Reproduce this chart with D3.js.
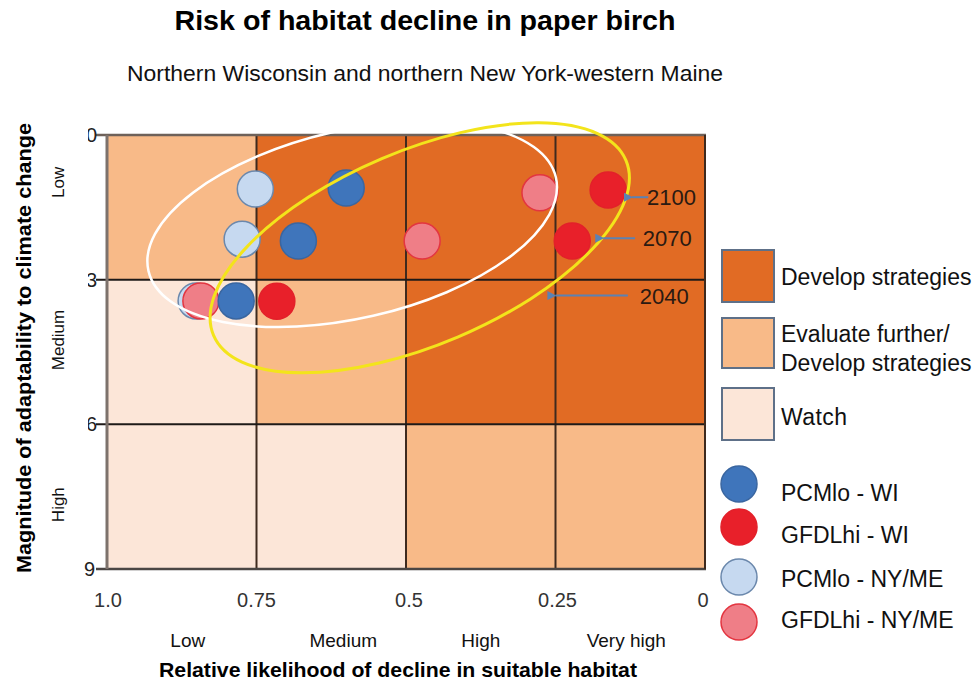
<!DOCTYPE html>
<html>
<head>
<meta charset="utf-8">
<script src="https://cdn.jsdelivr.net/npm/d3@7/dist/d3.min.js"></script>
<style>
  html, body { margin: 0; padding: 0; background: #fff; }
  svg { display: block; font-family: "Liberation Sans", Arial, sans-serif; }
</style>
</head>
<body>
<svg id="chart" width="979" height="685"></svg>
<script>
// ---- data -------------------------------------------------------------
const xTickValues = [1.0, 0.75, 0.5, 0.25, 0];
const xTickLabels = ["1.0", "0.75", "0.5", "0.25", "0"];
const yTickValues = [0, 3, 6, 9];
const likelihoodClasses = ["Low", "Medium", "High", "Very high"];
const adaptabilityClasses = ["Low", "Medium", "High"];

// Action zone for each cell: rows = adaptability band (0-3, 3-6, 6-9),
// columns = likelihood band (1.0-0.75, 0.75-0.5, 0.5-0.25, 0.25-0)
const zoneRows = [
  ["evaluate", "develop", "develop", "develop"],
  ["watch", "evaluate", "develop", "develop"],
  ["watch", "watch", "evaluate", "evaluate"]
];

// Scenario positions (x = relative likelihood value, y = adaptability score)
const pcmloNYME = [{x: 0.752, y: 1.12}, {x: 0.774, y: 2.16}, {x: 0.851, y: 3.44}];
const gfdlhiNYME = [{x: 0.276, y: 1.20}, {x: 0.473, y: 2.20}, {x: 0.843, y: 3.44}];
const pcmloWI = [{x: 0.600, y: 1.10}, {x: 0.680, y: 2.20}, {x: 0.784, y: 3.44}];
const gfdlhiWI = [{x: 0.162, y: 1.14}, {x: 0.222, y: 2.20}, {x: 0.716, y: 3.45}];

// Time-period callouts
const periodLabels = ["2100", "2070", "2040"];
const periodArrowY = [1.29, 2.14, 3.33];
const periodArrowFrom = [0.095, 0.117, 0.129];
const periodArrowTo = [0.122, 0.170, 0.250];
const periodLabelX = [0.097, 0.104, 0.109];

// ---- layout -----------------------------------------------------------
const svg = d3.select("#chart");
const plot = {left: 107, right: 705, top: 135, bottom: 569};

const x = d3.scaleLinear().domain([1.0, 0]).range([plot.left, plot.right]);
const y = d3.scaleLinear().domain([0, 9]).range([plot.top, plot.bottom]);

const zoneColor = {
  develop: "#E16B24",
  evaluate: "#F8BA88",
  watch: "#FCE6D8"
};

const xBands = [1.0, 0.75, 0.5, 0.25, 0];
const yBands = [0, 3, 6, 9];

// ---- titles -----------------------------------------------------------
svg.append("text")
  .attr("x", 425).attr("y", 30)
  .attr("text-anchor", "middle")
  .attr("font-size", 28).attr("font-weight", "bold")
  .attr("textLength", 501).attr("lengthAdjust", "spacingAndGlyphs")
  .text("Risk of habitat decline in paper birch");

svg.append("text")
  .attr("x", 425).attr("y", 81)
  .attr("text-anchor", "middle")
  .attr("font-size", 22)
  .attr("fill", "#111")
  .attr("textLength", 596).attr("lengthAdjust", "spacingAndGlyphs")
  .text("Northern Wisconsin and northern New York-western Maine");

// ---- zone cells -------------------------------------------------------
const cells = [];
zoneRows.forEach((row, r) => row.forEach((zone, c) => cells.push({r, c, zone})));

svg.append("g").selectAll("rect")
  .data(cells)
  .join("rect")
  .attr("x", d => x(xBands[d.c]))
  .attr("y", d => y(yBands[d.r]))
  .attr("width", d => x(xBands[d.c + 1]) - x(xBands[d.c]))
  .attr("height", d => y(yBands[d.r + 1]) - y(yBands[d.r]))
  .attr("fill", d => zoneColor[d.zone]);

// ---- grid & axes ------------------------------------------------------
const grid = svg.append("g");
// inner vertical dividers
grid.selectAll("line.v")
  .data([0.75, 0.5, 0.25])
  .join("line")
  .attr("x1", d => x(d)).attr("x2", d => x(d))
  .attr("y1", plot.top).attr("y2", plot.bottom)
  .attr("stroke", "#3E2A1E").attr("stroke-width", 2);
// horizontal dividers, running out to the tick labels
grid.selectAll("line.h")
  .data([3, 6])
  .join("line")
  .attr("x1", 96).attr("x2", plot.right)
  .attr("y1", d => y(d)).attr("y2", d => y(d))
  .attr("stroke", "#1E1A18").attr("stroke-width", 2);
// frame
grid.append("line")
  .attr("x1", 96).attr("x2", plot.right + 1)
  .attr("y1", plot.top).attr("y2", plot.top)
  .attr("stroke", "#6E6159").attr("stroke-width", 2.5);
grid.append("line")
  .attr("x1", 96).attr("x2", plot.right + 1)
  .attr("y1", plot.bottom).attr("y2", plot.bottom)
  .attr("stroke", "#4A4644").attr("stroke-width", 2.5);
grid.append("line")
  .attr("x1", plot.left).attr("x2", plot.left)
  .attr("y1", plot.top).attr("y2", plot.bottom)
  .attr("stroke", "#7D726C").attr("stroke-width", 3);
grid.append("line")
  .attr("x1", plot.right).attr("x2", plot.right)
  .attr("y1", plot.top).attr("y2", plot.bottom)
  .attr("stroke", "#3E2A1E").attr("stroke-width", 2);

// y tick labels (the upper three sit partly under the page margin)
svg.append("defs").append("clipPath")
  .attr("id", "tickClip")
  .append("rect")
  .attr("x", 88).attr("y", 100).attr("width", 30).attr("height", 360);

svg.append("g").selectAll("text")
  .data(yTickValues)
  .join("text")
  .attr("x", d => d === 9 ? 95 : 97)
  .attr("y", d => y(d) + 7)
  .attr("clip-path", d => d === 9 ? null : "url(#tickClip)")
  .attr("text-anchor", "end")
  .attr("font-size", 20)
  .attr("fill", "#222")
  .text(d => d);

// x tick labels
svg.append("g").selectAll("text")
  .data(xTickValues)
  .join("text")
  .attr("x", (d, i) => x(d) + [1, 0, 3, 2, -2][i])
  .attr("y", 607)
  .attr("text-anchor", "middle")
  .attr("font-size", 20)
  .attr("fill", "#333")
  .text((d, i) => xTickLabels[i]);

// likelihood class names under each column
svg.append("g").selectAll("text")
  .data(likelihoodClasses)
  .join("text")
  .attr("x", (d, i) => (x(xBands[i]) + x(xBands[i + 1])) / 2 + [6, 12, 0, -4][i])
  .attr("y", 647)
  .attr("text-anchor", "middle")
  .attr("font-size", 19)
  .attr("fill", "#111")
  .text(d => d);

svg.append("text")
  .attr("x", 398).attr("y", 677)
  .attr("text-anchor", "middle")
  .attr("font-size", 21).attr("font-weight", "bold")
  .attr("textLength", 478).attr("lengthAdjust", "spacingAndGlyphs")
  .text("Relative likelihood of decline in suitable habitat");

// adaptability class names beside each row
svg.append("g").selectAll("text")
  .data(adaptabilityClasses)
  .join("text")
  .attr("transform", (d, i) => `translate(64,${(y(yBands[i]) + y(yBands[i + 1])) / 2 - [25, 12, -8][i]}) rotate(-90)`)
  .attr("text-anchor", "middle")
  .attr("font-size", 17)
  .attr("fill", "#111")
  .text(d => d);

svg.append("text")
  .attr("transform", "translate(31,348) rotate(-90)")
  .attr("text-anchor", "middle")
  .attr("font-size", 21).attr("font-weight", "bold")
  .attr("textLength", 450).attr("lengthAdjust", "spacingAndGlyphs")
  .text("Magnitude of adaptability to climate change");

// ---- scenario points --------------------------------------------------
const seriesList = [
  {name: "PCMlo - NY/ME", data: pcmloNYME, fill: "#C6D9F0", stroke: "#6B88AC"},
  {name: "GFDLhi - NY/ME", data: gfdlhiNYME, fill: "#EF7E87", stroke: "#E33540"},
  {name: "PCMlo - WI", data: pcmloWI, fill: "#3F75BB", stroke: "#3A66A0"},
  {name: "GFDLhi - WI", data: gfdlhiWI, fill: "#E8202A", stroke: "#E3202A"}
];
const pointR = 18;

const points = svg.append("g");
seriesList.forEach(s => {
  points.append("g").selectAll("circle")
    .data(s.data)
    .join("circle")
    .attr("cx", d => x(d.x))
    .attr("cy", d => y(d.y))
    .attr("r", pointR)
    .attr("fill", s.fill)
    .attr("stroke", s.stroke)
    .attr("stroke-width", 1.5);
});

// ---- period ellipses (centre in data units, radii in px) ---------------
const periodEllipses = [
  {cx: 0.590, cy: 1.85, rx: 209, ry: 94, angle: -12.9, color: "#FFFFFF", width: 2.5},
  {cx: 0.477, cy: 2.34, rx: 224, ry: 97, angle: -23, color: "#F3E41B", width: 3}
];
svg.append("g").selectAll("ellipse")
  .data(periodEllipses)
  .join("ellipse")
  .attr("transform", d => `translate(${x(d.cx)},${y(d.cy)}) rotate(${d.angle})`)
  .attr("rx", d => d.rx)
  .attr("ry", d => d.ry)
  .attr("fill", "none")
  .attr("stroke", d => d.color)
  .attr("stroke-width", d => d.width);

// ---- callout arrows ---------------------------------------------------
svg.select("defs").append("marker")
  .attr("id", "arrowHead")
  .attr("viewBox", "0 0 10 10")
  .attr("refX", 1).attr("refY", 5)
  .attr("markerWidth", 4.5).attr("markerHeight", 4.5)
  .attr("orient", "auto-start-reverse")
  .append("path")
  .attr("d", "M10,0 L0,5 L10,10 Z")
  .attr("fill", "#5B82B4");

const callouts = svg.append("g");
periodLabels.forEach((label, i) => {
  callouts.append("line")
    .attr("x1", x(periodArrowFrom[i])).attr("x2", x(periodArrowTo[i]))
    .attr("y1", y(periodArrowY[i])).attr("y2", y(periodArrowY[i]))
    .attr("stroke", "#5B82B4").attr("stroke-width", 2)
    .attr("marker-end", "url(#arrowHead)");
  callouts.append("text")
    .attr("x", x(periodLabelX[i]))
    .attr("y", y(periodArrowY[i]) + 8)
    .attr("font-size", 22)
    .attr("fill", "#2A1A12")
    .attr("textLength", 49).attr("lengthAdjust", "spacingAndGlyphs")
    .text(label);
});

// ---- legend -----------------------------------------------------------
const zoneLegend = [
  {zone: "develop", lines: ["Develop strategies"], top: 250, h: 52, base: [285]},
  {zone: "evaluate", lines: ["Evaluate further/", "Develop strategies"], top: 318, h: 50, base: [342, 371]},
  {zone: "watch", lines: ["Watch"], top: 388, h: 52, base: [425]}
];
const legend = svg.append("g");
zoneLegend.forEach(z => {
  legend.append("rect")
    .attr("x", 722).attr("y", z.top)
    .attr("width", 52).attr("height", z.h)
    .attr("fill", zoneColor[z.zone])
    .attr("stroke", "#5E7088").attr("stroke-width", 2);
  z.lines.forEach((t, j) => {
    legend.append("text")
      .attr("x", 781).attr("y", z.base[j])
      .attr("font-size", 23)
      .attr("fill", "#111")
      .attr("textLength", t === "Watch" ? 66 : null)
      .text(t);
  });
});

const seriesLegend = [
  {s: seriesList[2], cy: 484, base: 501},
  {s: seriesList[3], cy: 527, base: 543},
  {s: seriesList[0], cy: 577, base: 587},
  {s: seriesList[1], cy: 622, base: 628}
];
seriesLegend.forEach(item => {
  legend.append("circle")
    .attr("cx", 739).attr("cy", item.cy).attr("r", 18)
    .attr("fill", item.s.fill)
    .attr("stroke", item.s.stroke).attr("stroke-width", 1.5);
  legend.append("text")
    .attr("x", 781).attr("y", item.base)
    .attr("font-size", 23)
    .attr("fill", "#111")
    .text(item.s.name);
});
</script>
</body>
</html>
